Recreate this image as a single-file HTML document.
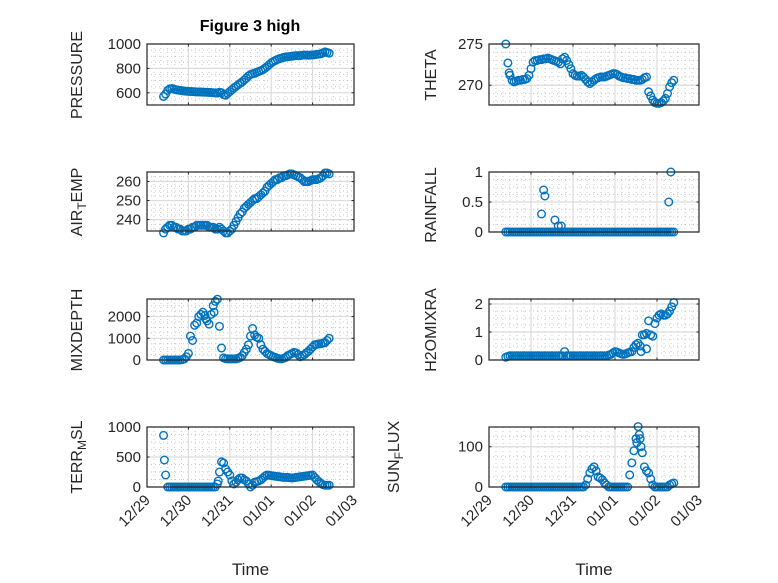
<!DOCTYPE html>
<html><head><meta charset="utf-8"><style>
body{margin:0;background:#fff;}
svg{display:block;font-family:"Liberation Sans",sans-serif;}
</style></head><body>
<svg id="fig" width="778" height="583" viewBox="0 0 778 583" xmlns="http://www.w3.org/2000/svg">
<rect width="778" height="583" fill="#fff"/>
<text x="250" y="31" text-anchor="middle" font-size="16" font-weight="bold" fill="#000">Figure 3 high</text>
</svg>
<script>
const timeDays = [0.4,0.45,0.5,0.55,0.6,0.65,0.7,0.75,0.8,0.85,0.9,0.95,1.0,1.05,1.1,1.15,1.2,1.25,1.3,1.35,
1.4,1.45,1.5,1.55,1.6,1.65,1.7,1.75,1.8,1.85,1.9,1.95,2.0,2.05,2.1,2.15,2.2,2.25,2.3,2.35,
2.4,2.45,2.5,2.55,2.6,2.65,2.7,2.75,2.8,2.85,2.9,2.95,3.0,3.05,3.1,3.15,3.2,3.25,3.3,3.35,
3.4,3.45,3.5,3.55,3.6,3.65,3.7,3.75,3.8,3.85,3.9,3.95,4.0,4.05,4.1,4.15,4.2,4.25,4.3,4.35,
4.4];
const xTickLabels = ["12/29","12/30","12/31","01/01","01/02","01/03"];
const pressure = [570,590,620,632,635,630,625,622,620,617,615,613,612,611,610,609,608,607,607,606,
605,604,603,602,600,599,598,605,600,585,580,595,610,625,640,652,665,678,690,705,
720,738,750,756,760,768,775,782,790,802,815,830,845,856,865,873,880,885,890,893,
895,898,900,903,905,905,905,908,910,909,908,909,910,912,915,917,920,928,935,930,
925];
const airTemp = [233,235,236,237,237,236,236,235,235,234,234,234,235,235,236,236,237,237,237,237,
237,237,236,236,236,235,235,236,235,234,233,233,234,235,237,239,241,243,244,246,
247,248,249,250,251,251,252,253,254,255,257,258,259,260,261,261,262,262,263,263,
263.5,264,264,263.5,263,262.5,262,261,260,260,260,260.5,261,261,261,261.5,262,263,264.5,264.5,
264];
const theta = [275,272.7,271.2,270.6,270.4,270.5,270.6,270.6,270.7,270.7,270.8,271.2,272,272.8,273,273,273.1,273.1,273.2,273.2,
273.3,273.2,273.1,273,272.9,272.8,272.6,273.2,273.4,273,272.5,272,271.4,271.2,271.1,271.1,271.2,271,270.7,270.4,
270.2,270.4,270.6,270.8,270.9,271,271,271,271.1,271.2,271.3,271.4,271.4,271.3,271.1,271,270.9,270.9,270.8,270.8,
270.7,270.7,270.6,270.6,270.6,270.7,270.9,271,269.2,268.7,268.2,267.9,267.8,267.8,267.9,268.1,268.4,269,269.8,270.3,
270.6];
const thetaExtraT = [0.48];
const thetaExtraV = [271.5];
const rainfall = [0,0,0,0,0,0,0,0,0,0,0,0,0,0,0,0,0,0,0,0,
0,0,0,0,0,0,0,0,0,0,0,0,0,0,0,0,0,0,0,0,
0,0,0,0,0,0,0,0,0,0,0,0,0,0,0,0,0,0,0,0,
0,0,0,0,0,0,0,0,0,0,0,0,0,0,0,0,0,0,0,0,
0];
const rainExtraT = [1.25,1.3,1.33,1.57,1.65,1.72,4.28,4.33];
const rainExtraV = [0.3,0.7,0.6,0.2,0.1,0.1,0.5,1.0];
const mixDepth = [0,0,0,0,0,0,0,0,0,20,50,150,300,1100,900,1600,1700,2000,2100,2200,
2050,1800,1650,2100,2500,2700,2800,1550,550,100,60,50,50,50,50,50,80,120,200,350,
500,700,1100,1450,1150,1050,1000,700,500,400,300,250,200,150,120,80,60,50,80,120,
200,250,300,350,330,250,150,200,250,330,400,500,600,700,720,740,750,780,800,900,
1000];
const mixExtraT = [1.42,1.62];
const mixExtraV = [1900,2200];
const h2o = [0.1,0.13,0.15,0.15,0.15,0.15,0.15,0.15,0.15,0.15,0.15,0.15,0.15,0.15,0.15,0.15,0.15,0.15,0.15,0.15,
0.15,0.15,0.15,0.15,0.15,0.15,0.15,0.15,0.3,0.15,0.15,0.15,0.15,0.15,0.15,0.15,0.15,0.15,0.15,0.15,
0.15,0.15,0.15,0.15,0.15,0.15,0.15,0.15,0.15,0.18,0.2,0.25,0.3,0.28,0.25,0.22,0.2,0.22,0.25,0.28,
0.3,0.45,0.55,0.6,0.5,0.9,0.9,0.95,1.4,0.9,0.85,1.3,1.5,1.6,1.65,1.6,1.6,1.65,1.75,1.9,
2.05];
const h2oExtraT = [3.75,3.62];
const h2oExtraV = [0.4,0.3];
const terr = [860,200,0,0,0,0,0,0,0,0,0,0,0,0,0,0,0,0,0,0,
0,0,0,0,0,0,50,250,420,400,300,250,200,100,50,80,120,150,150,120,
100,50,0,30,80,90,100,120,150,180,200,195,190,185,180,175,170,165,160,160,
160,155,150,155,160,165,170,175,180,185,190,195,200,160,120,90,60,40,30,30,
30];
const terrExtraT = [0.42,1.72];
const terrExtraV = [450,100];
const sunFlux = [0,0,0,0,0,0,0,0,0,0,0,0,0,0,0,0,0,0,0,0,
0,0,0,0,0,0,0,0,0,0,0,0,0,0,0,0,0,0,5,20,
35,45,50,40,25,22,18,10,5,0,0,0,0,0,0,0,0,0,0,30,
60,90,120,150,120,85,50,40,35,20,5,0,0,0,0,0,0,0,5,8,
10];
const sunExtraT = [3.58,3.52,3.62];
const sunExtraV = [130,110,100];

const yTicksPressure = [600,800,1000];
const yTicksAir = [240,250,260];
const yTicksTheta = [270,275];
const yTicksRain = [0,0.5,1];
const yTicksMix = [0,1000,2000];
const yTicksH2o = [0,1,2];
const yTicksTerr = [0,500,1000];
const yTicksSun = [0,100];

const NS="http://www.w3.org/2000/svg";
const svg=document.getElementById('fig');
function mk(tag,attrs,parent){const e=document.createElementNS(NS,tag);for(const k in attrs)e.setAttribute(k,attrs[k]);(parent||svg).appendChild(e);return e;}

const panels=[
 {name:'pressure',x0:147,x1:354,y0:44,y1:105,ymin:500,ymax:1000,ticks:yTicksPressure,vals:pressure,et:[],ev:[],label:['PRESSURE'],lx:82,ly:75,minorY:50,xl:false},
 {name:'theta',x0:489,x1:699,y0:44,y1:105,ymin:267.6,ymax:275,ticks:yTicksTheta,vals:theta,et:thetaExtraT,ev:thetaExtraV,label:['THETA'],lx:436,ly:75,minorY:1,xl:false},
 {name:'air-temp',x0:147,x1:354,y0:172,y1:231,ymin:234,ymax:265,ticks:yTicksAir,vals:airTemp,et:[],ev:[],label:['AIR','T','EMP'],lx:82,ly:202,minorY:2.5,xl:false},
 {name:'rainfall',x0:489,x1:699,y0:172,y1:232,ymin:0,ymax:1,ticks:yTicksRain,vals:rainfall,et:rainExtraT,ev:rainExtraV,label:['RAINFALL'],lx:436,ly:205,minorY:0.125,xl:false},
 {name:'mixdepth',x0:147,x1:354,y0:299,y1:360,ymin:0,ymax:2810,ticks:yTicksMix,vals:mixDepth,et:mixExtraT,ev:mixExtraV,label:['MIXDEPTH'],lx:82,ly:330,minorY:250,xl:false},
 {name:'h2omixra',x0:489,x1:699,y0:299,y1:360,ymin:0,ymax:2.18,ticks:yTicksH2o,vals:h2o,et:h2oExtraT,ev:h2oExtraV,label:['H2OMIXRA'],lx:436,ly:330,minorY:0.25,xl:false},
 {name:'terr-msl',x0:147,x1:354,y0:427,y1:487,ymin:0,ymax:1000,ticks:yTicksTerr,vals:terr,et:terrExtraT,ev:terrExtraV,label:['TERR','M','SL'],lx:82,ly:457,minorY:125,xl:true},
 {name:'sun-flux',x0:489,x1:699,y0:427,y1:487,ymin:0,ymax:149,ticks:yTicksSun,vals:sunFlux,et:sunExtraT,ev:sunExtraV,label:['SUN','F','LUX'],lx:399,ly:457,minorY:25,xl:true},
];

panels.forEach(p=>{
 const g=mk('g',{});
 
 
 const xs=d=>p.x0+(d/5)*(p.x1-p.x0);
 const ys=v=>p.y1-(v-p.ymin)/(p.ymax-p.ymin)*(p.y1-p.y0);
 for(let i=1;i<30;i++){ if(i%6===0) continue; const x=xs(i/6);
   mk('line',{x1:x,x2:x,y1:p.y0,y2:p.y1,stroke:'#c8c8c8','stroke-width':1,'stroke-dasharray':'1,3'},g);}
 for(let v=Math.ceil(p.ymin/p.minorY)*p.minorY; v<p.ymax; v+=p.minorY){
   const isMajor=p.ticks.some(t=>Math.abs(t-v)<1e-9); if(isMajor) continue; const y=ys(v);
   mk('line',{x1:p.x0,x2:p.x1,y1:y,y2:y,stroke:'#c8c8c8','stroke-width':1,'stroke-dasharray':'1,3'},g);}
 for(let i=1;i<5;i++){const x=xs(i);mk('line',{x1:x,x2:x,y1:p.y0,y2:p.y1,stroke:'#dcdcdc','stroke-width':1.2},g);}
 p.ticks.forEach(t=>{const y=ys(t);mk('line',{x1:p.x0,x2:p.x1,y1:y,y2:y,stroke:'#dcdcdc','stroke-width':1.2},g);
   const tl=mk('text',{x:p.x0-6,y:y+5,'text-anchor':'end','font-size':15,fill:'#262626'},g);tl.textContent=t;
   
   
   mk('line',{x1:p.x0,x2:p.x0+2.5,y1:y,y2:y,stroke:'#262626'},g);mk('line',{x1:p.x1,x2:p.x1-2.5,y1:y,y2:y,stroke:'#262626'},g);});
 for(let i=0;i<=5;i++){const x=xs(i);mk('line',{x1:x,x2:x,y1:p.y1,y2:p.y1-2.5,stroke:'#262626'},g);mk('line',{x1:x,x2:x,y1:p.y0,y2:p.y0+2.5,stroke:'#262626'},g);
   if(p.xl){const tl=mk('text',{x:x+4,y:p.y1+14,'text-anchor':'end','font-size':15,fill:'#262626',transform:`rotate(-45 ${x+4} ${p.y1+14})`},g);tl.textContent=xTickLabels[i];
     
     }}
 const pts=[];timeDays.forEach((t,i)=>pts.push([t,p.vals[i]]));p.et.forEach((t,i)=>pts.push([t,p.ev[i]]));
 pts.forEach(([t,v])=>{const c=mk('circle',{cx:xs(t),cy:ys(v),r:3.8,fill:'none',stroke:'#0072BD','stroke-width':1.4},g);
   
   });
 const box=mk('rect',{x:p.x0,y:p.y0,width:p.x1-p.x0,height:p.y1-p.y0,fill:'none',stroke:'#262626','stroke-width':1.2},g);
 
 
 const lab=mk('text',{x:p.lx,y:p.ly,'text-anchor':'middle','font-size':16,fill:'#262626',transform:`rotate(-90 ${p.lx} ${p.ly})`},g);
 
 
 if(p.label.length===1){lab.textContent=p.label[0];}
 else{const a=mk('tspan',{},lab);a.textContent=p.label[0];const b=mk('tspan',{dy:4,'font-size':12},lab);b.textContent=p.label[1];const c=mk('tspan',{dy:-4},lab);c.textContent=p.label[2];}
 if(p.xl){const xt=mk('text',{x:(p.x0+p.x1)/2,y:575,'text-anchor':'middle','font-size':17,fill:'#262626'},g);xt.textContent='Time';
   
   }
});
</script>
</body></html>
